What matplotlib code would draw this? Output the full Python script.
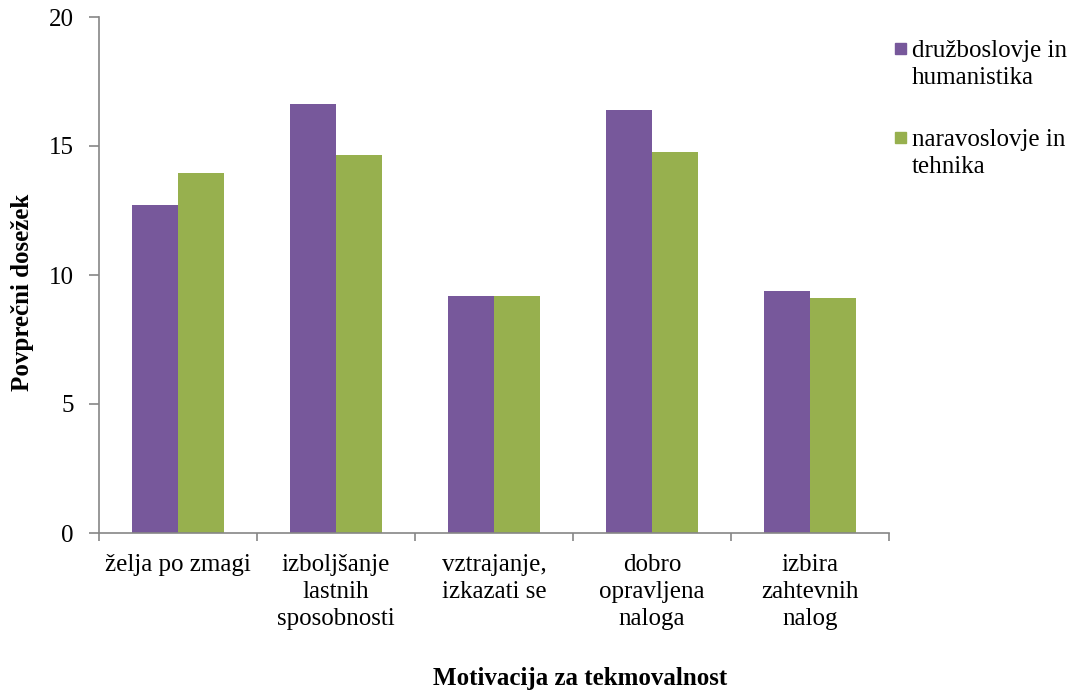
import matplotlib.pyplot as plt
from matplotlib.patches import Rectangle
import numpy as np

categories = ['želja po zmagi', 'izboljšanje\nlastnih\nsposobnosti', 'vztrajanje,\nizkazati se',
              'dobro\nopravljena\nnaloga', 'izbira\nzahtevnih\nnalog']
druzboslovje = [12.72, 16.62, 9.17, 16.38, 9.39]
naravoslovje = [13.97, 14.66, 9.17, 14.77, 9.12]
series_names = ['družboslovje in\nhumanistika', 'naravoslovje in\ntehnika']

purple = '#77589b'
green = '#97b04e'
axis_grey = '#868686'

plt.rcParams['font.family'] = ['Liberation Serif', 'DejaVu Serif']

W, H = 1070, 691
fig = plt.figure(figsize=(W / 100, H / 100), dpi=100)
ax = fig.add_axes([99 / W, 1 - 533 / H, 790 / W, 516 / H])

x = np.arange(len(categories))
w = 0.29
ax.bar(x - w / 2, druzboslovje, w, color=purple)
ax.bar(x + w / 2, naravoslovje, w, color=green)

ax.set_xlim(-0.5, len(categories) - 0.5)
ax.set_ylim(0, 20)
ax.set_yticks([0, 5, 10, 15, 20])
ax.set_xticks(x)
ax.set_xticklabels(categories, fontsize=18, linespacing=1.3)
ax.set_xticks(np.arange(-0.5, len(categories)), minor=True)
ax.tick_params(axis='x', which='major', length=0, pad=15)
ax.tick_params(axis='x', which='minor', length=6, color=axis_grey, width=1.2)
ax.tick_params(axis='y', length=7, color=axis_grey, width=1.2, labelsize=18, pad=11)

for s in ['top', 'right']:
    ax.spines[s].set_visible(False)
for s in ['left', 'bottom']:
    ax.spines[s].set_color(axis_grey)
    ax.spines[s].set_linewidth(1.2)

# axis titles
fig.text(23 / W, 1 - 292 / H, 'Povprečni dosežek', fontsize=18, fontweight='bold',
         rotation=90, ha='center', va='center')
fig.text(580 / W, 6 / H, 'Motivacija za tekmovalnost', fontsize=18, fontweight='bold',
         ha='center', va='baseline')

# legend: square next to the first line of each label
for name, color, top in zip(series_names, [purple, green], [43, 132]):
    fig.patches.append(Rectangle((895 / W, 1 - (top + 11) / H), 11 / W, 11 / H,
                                 color=color, transform=fig.transFigure))
    fig.text(912 / W, 1 - (top - 3) / H, name, fontsize=18, ha='left', va='top',
             linespacing=1.3)

fig.savefig('out.png', dpi=100)
